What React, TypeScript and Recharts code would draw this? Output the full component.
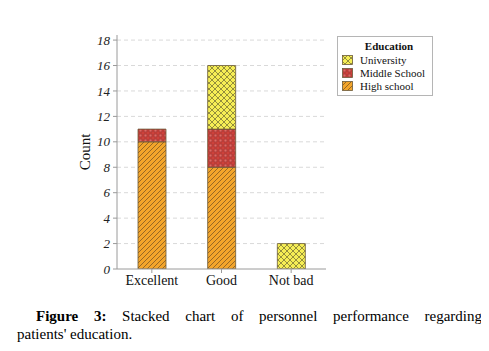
import React from "react";
import {
  BarChart,
  Bar,
  XAxis,
  YAxis,
  CartesianGrid,
  Legend,
} from "recharts";

const categories = ["Excellent", "Good", "Not bad"];
const highSchool = [10, 8, 0];
const middleSchool = [1, 3, 0];
const university = [0, 5, 2];
const yTicks = [0, 2, 4, 6, 8, 10, 12, 14, 16, 18];

const series = [
  { key: "university", name: "University", fill: "url(#pat-uni)" },
  { key: "middle", name: "Middle School", fill: "url(#pat-mid)" },
  { key: "high", name: "High school", fill: "url(#pat-high)" },
];

const data = categories.map((c, i) => ({
  name: c,
  high: highSchool[i],
  middle: middleSchool[i],
  university: university[i],
}));

const serif = "Liberation Serif, serif";

function Patterns() {
  return (
    <svg width={0} height={0} style={{ position: "absolute" }}>
      <defs>
        <pattern id="pat-high" patternUnits="userSpaceOnUse" width={5} height={5}>
          <rect width={5} height={5} fill="#F3A52B" />
          <path
            d="M0,5 L5,0 M-1,1 L1,-1 M4,6 L6,4"
            stroke="#6e4e22"
            strokeWidth={0.7}
          />
        </pattern>
        <pattern id="pat-mid" patternUnits="userSpaceOnUse" width={5} height={5}>
          <rect width={5} height={5} fill="#D3433D" />
          <rect x={1} y={1} width={3} height={3} fill="#E26762" stroke="#8a2a28" strokeWidth={0.6} />
        </pattern>
        <pattern id="pat-uni" patternUnits="userSpaceOnUse" width={6} height={6}>
          <rect width={6} height={6} fill="#F6EE55" />
          <path d="M0,0 L6,6 M6,0 L0,6" stroke="#6a6430" strokeWidth={0.7} />
        </pattern>
      </defs>
    </svg>
  );
}

function LegendBox() {
  return (
    <div
      style={{
        border: "1px solid #b5b5b5",
        background: "#fff",
        fontFamily: serif,
        fontSize: 11,
        color: "#111",
        padding: "3px 4px 3px 4px",
        boxSizing: "border-box",
        width: 96,
      }}
    >
      <div style={{ fontWeight: "bold", textAlign: "center", lineHeight: "13px", paddingLeft: 8 }}>
        Education
      </div>
      {series.map((s) => (
        <div key={s.key} style={{ display: "flex", alignItems: "center", height: 13 }}>
          <svg width={11} height={10} style={{ marginRight: 7 }}>
            <rect x={0.5} y={0.5} width={10} height={9} fill={s.fill} stroke="#6b5a3a" strokeWidth={0.8} />
          </svg>
          <span>{s.name}</span>
        </div>
      ))}
    </div>
  );
}

export default function App() {
  return (
    <div style={{ position: "relative", width: 473, height: 335 }}>
      <Patterns />
      <BarChart
        width={440}
        height={290}
        data={data}
        margin={{ top: 27, right: 122, bottom: 0, left: 0 }}
        barSize={28}
      >
        <CartesianGrid
          vertical={false}
          stroke="#d9d9d9"
          strokeDasharray="4 3"
          horizontalValues={yTicks.slice(1)}
        />
        <XAxis
          dataKey="name"
          height={29}
          stroke="#9a9a9a"
          tickSize={4}
          tickMargin={2}
          tick={{ fontFamily: serif, fontSize: 14, fill: "#111" }}
        />
        <YAxis
          width={109}
          domain={[0, 18.4]}
          ticks={yTicks}
          allowDataOverflow
          stroke="#9a9a9a"
          tickSize={4}
          tickMargin={3}
          tick={{ fontFamily: serif, fontSize: 13, fontStyle: "italic", fill: "#222" }}
          label={{
            value: "Count",
            angle: -90,
            position: "insideLeft",
            offset: 77,
            style: { fontFamily: serif, fontSize: 15, fill: "#111", textAnchor: "middle" },
          }}
        />
        <YAxis
          yAxisId="frame"
          orientation="right"
          width={0}
          tick={false}
          tickLine={false}
          stroke="#9a9a9a"
        />
        <Legend
          layout="horizontal"
          verticalAlign="middle"
          align="center"
          wrapperStyle={{ left: 329, top: 28, width: 96 }}
          content={() => <LegendBox />}
        />
        <Bar dataKey="high" name="High school" stackId="a" fill="url(#pat-high)" stroke="#6b5a3a" strokeWidth={0.8} isAnimationActive={false} />
        <Bar dataKey="middle" name="Middle School" stackId="a" fill="url(#pat-mid)" stroke="#6b5a3a" strokeWidth={0.8} isAnimationActive={false} />
        <Bar dataKey="university" name="University" stackId="a" fill="url(#pat-uni)" stroke="#6b5a3a" strokeWidth={0.8} isAnimationActive={false} />
      </BarChart>
      <div
        style={{
          position: "absolute",
          left: 9,
          top: 299,
          width: 465,
          fontFamily: serif,
          fontSize: 15,
          lineHeight: "18px",
          color: "#000",
        }}
      >
        <div style={{ textAlign: "justify", textAlignLast: "justify", paddingLeft: 19 }}>
          <b>Figure 3:</b> Stacked chart of personnel performance regarding
        </div>
        <div>patients' education.</div>
      </div>
    </div>
  );
}
